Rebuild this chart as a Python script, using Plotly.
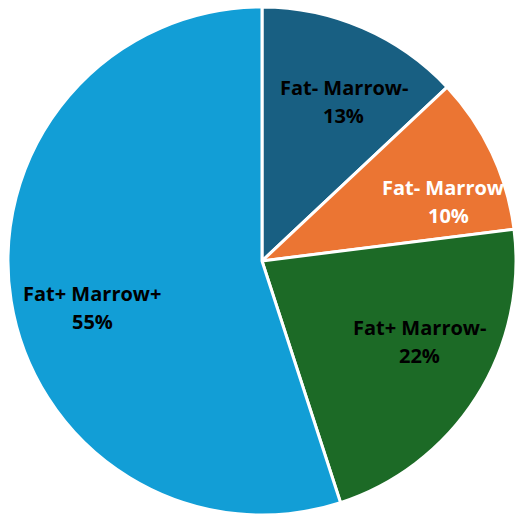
import math
import plotly.graph_objects as go

# Fat / marrow status groups and their share of cases (%)
groups = ["Fat- Marrow-", "Fat- Marrow+", "Fat+ Marrow-", "Fat+ Marrow+"]
shares = [13, 10, 22, 55]
slice_colors = ["#185F82", "#EB7533", "#1C6A26", "#129ED6"]
label_colors = ["#000000", "#FFFFFF", "#000000", "#000000"]

# Style: label placement (fraction of radius, plus pixel nudges per slice)
LABEL_RADIUS = 0.70
label_nudge = [(11, 4), (26, 16), (7, -15), (6, 19)]
LINE_GAP = 14  # half the distance between the two label lines, px

W = H = 517
dom_x = [8 / W, 516 / W]
dom_y = [2 / H, 510 / H]

fig = go.Figure(
    go.Pie(
        labels=groups,
        values=shares,
        sort=False,
        direction="clockwise",
        rotation=0,
        marker=dict(colors=slice_colors, line=dict(color="#FFFFFF", width=3)),
        textinfo="none",
        hoverinfo="label+percent",
        showlegend=False,
        domain=dict(x=dom_x, y=dom_y),
    )
)

# Place the labels at each slice's mid-angle, derived from the values
cx = (dom_x[0] + dom_x[1]) / 2
cy = (dom_y[0] + dom_y[1]) / 2
radius = min(dom_x[1] - dom_x[0], dom_y[1] - dom_y[0]) / 2
total = sum(shares)
start = 0.0
font = dict(family="Open Sans", size=20, weight="bold")
for name, val, col, (nx, ny) in zip(groups, shares, label_colors, label_nudge):
    mid = (start + val / 2) / total * 2 * math.pi
    start += val
    px = cx + LABEL_RADIUS * radius * math.sin(mid)
    py = cy + LABEL_RADIUS * radius * math.cos(mid)
    for txt, dy in ((name, LINE_GAP), (f"{val}%", -LINE_GAP)):
        fig.add_annotation(
            x=px, y=py, xref="paper", yref="paper",
            text=txt, showarrow=False,
            xshift=nx, yshift=dy - ny,
            xanchor="center", yanchor="middle",
            font=dict(color=col, **font),
        )

fig.update_layout(
    width=W,
    height=H,
    margin=dict(l=0, r=0, t=0, b=0),
    paper_bgcolor="#FFFFFF",
    plot_bgcolor="#FFFFFF",
)

fig.write_html("out.html")
